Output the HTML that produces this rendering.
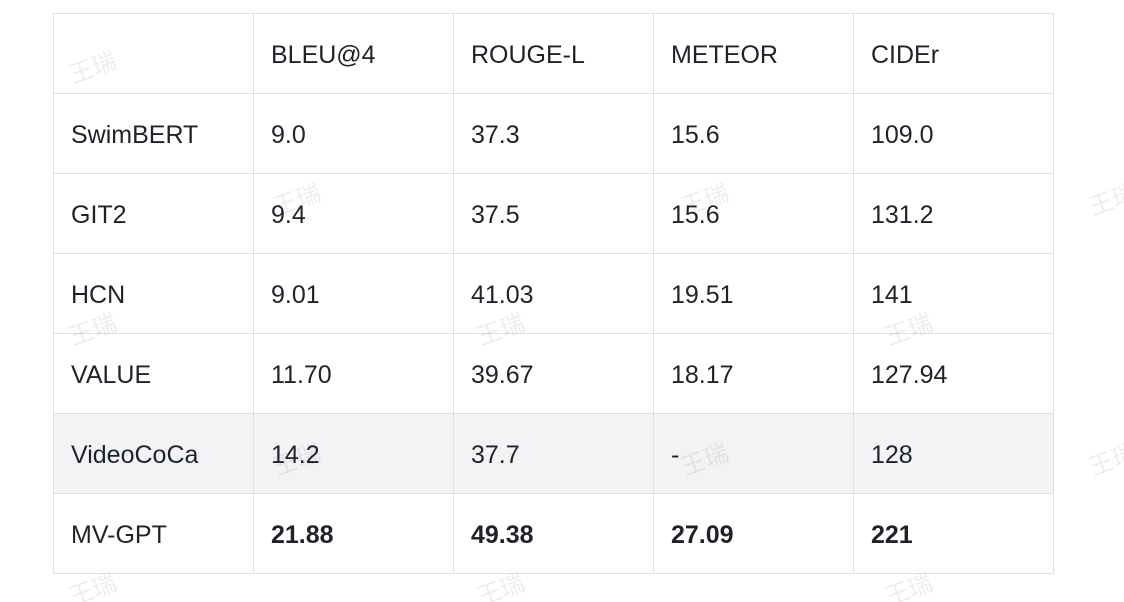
<!DOCTYPE html>
<html><head><meta charset="utf-8"><style>
html,body{margin:0;padding:0;background:#fff;width:1124px;height:602px;overflow:hidden;position:relative}
table{position:absolute;left:53px;top:13px;border-collapse:collapse;table-layout:fixed;font-family:"Liberation Sans","Noto Sans CJK SC",sans-serif;font-size:25px;color:#1f2329}
td{width:200px;height:80px;border:1px solid #dee0e3;padding:4px 0 0 17px;box-sizing:border-box;vertical-align:middle}
tr.hl td{background:#f2f3f5}
b{font-weight:bold}
.wm{position:absolute;white-space:nowrap;font-family:"Noto Sans CJK SC",sans-serif;font-size:24px;color:rgba(0,0,0,0.07);transform:rotate(-20deg);pointer-events:none}
</style></head><body>
<table>
<tr><td></td><td>BLEU@4</td><td>ROUGE-L</td><td>METEOR</td><td>CIDEr</td></tr>
<tr><td>SwimBERT</td><td>9.0</td><td>37.3</td><td>15.6</td><td>109.0</td></tr>
<tr><td>GIT2</td><td>9.4</td><td>37.5</td><td>15.6</td><td>131.2</td></tr>
<tr><td>HCN</td><td>9.01</td><td>41.03</td><td>19.51</td><td>141</td></tr>
<tr><td>VALUE</td><td>11.70</td><td>39.67</td><td>18.17</td><td>127.94</td></tr>
<tr class="hl"><td>VideoCoCa</td><td>14.2</td><td>37.7</td><td>-</td><td>128</td></tr>
<tr><td>MV-GPT</td><td><b>21.88</b></td><td><b>49.38</b></td><td><b>27.09</b></td><td><b>221</b></td></tr>
</table>
<div class="wm" style="left:68px;top:48px">王瑞</div>
<div class="wm" style="left:272px;top:180px">王瑞</div>
<div class="wm" style="left:680px;top:180px">王瑞</div>
<div class="wm" style="left:1088px;top:180px">王瑞</div>
<div class="wm" style="left:68px;top:310px">王瑞</div>
<div class="wm" style="left:476px;top:310px">王瑞</div>
<div class="wm" style="left:884px;top:310px">王瑞</div>
<div class="wm" style="left:272px;top:440px">王瑞</div>
<div class="wm" style="left:680px;top:440px">王瑞</div>
<div class="wm" style="left:1088px;top:440px">王瑞</div>
<div class="wm" style="left:68px;top:570px">王瑞</div>
<div class="wm" style="left:476px;top:570px">王瑞</div>
<div class="wm" style="left:884px;top:570px">王瑞</div>
</body></html>
